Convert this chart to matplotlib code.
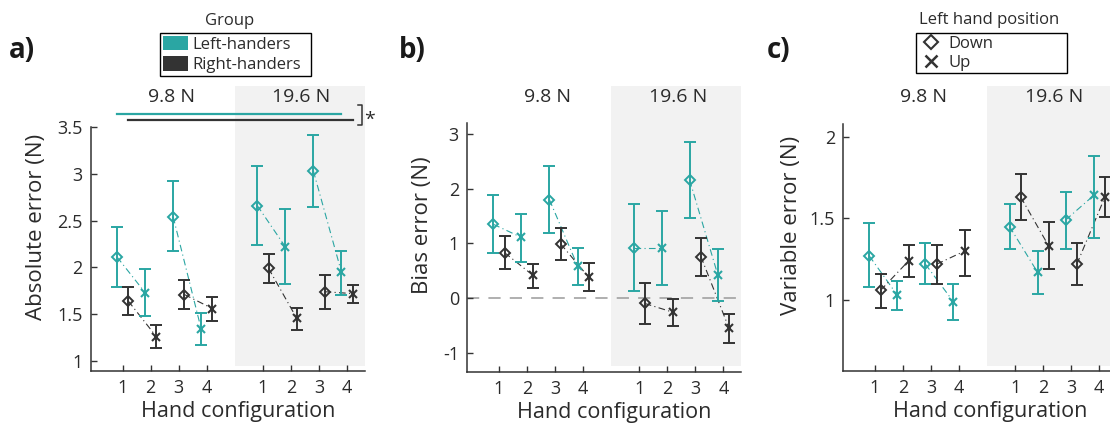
import matplotlib
matplotlib.use('Agg')
import matplotlib.pyplot as plt
import matplotlib.transforms as mtransforms
from matplotlib.patches import Rectangle, Patch
from matplotlib.lines import Line2D
import numpy as np

plt.rcParams['font.family'] = ['Open Sans', 'DejaVu Sans']

# hand configuration 1-4 at 9.8 N, then 1-4 at 19.6 N
config_labels = ['1', '2', '3', '4', '1', '2', '3', '4']
force_labels = ['9.8 N', '19.6 N']
xpos = [1, 2, 3, 4, 6, 7, 8, 9]
hand_pos = ['Down', 'Up', 'Down', 'Up', 'Down', 'Up', 'Down', 'Up']

# absolute error (N)
abs_left_mean = [2.11, 1.73, 2.54, 1.34, 2.66, 2.22, 3.03, 1.95]
abs_left_lo = [1.79, 1.48, 2.17, 1.17, 2.24, 1.82, 2.64, 1.71]
abs_left_hi = [2.43, 1.98, 2.92, 1.51, 3.08, 2.62, 3.41, 2.18]
abs_right_mean = [1.64, 1.26, 1.71, 1.56, 1.99, 1.46, 1.74, 1.72]
abs_right_lo = [1.49, 1.14, 1.56, 1.43, 1.83, 1.33, 1.55, 1.62]
abs_right_hi = [1.79, 1.38, 1.87, 1.68, 2.14, 1.57, 1.92, 1.81]

# bias error (N)
bias_left_mean = [1.35, 1.11, 1.80, 0.59, 0.92, 0.92, 2.16, 0.43]
bias_left_lo = [0.83, 0.66, 1.19, 0.23, 0.13, 0.23, 1.47, -0.05]
bias_left_hi = [1.88, 1.53, 2.41, 0.91, 1.72, 1.60, 2.86, 0.90]
bias_right_mean = [0.83, 0.42, 0.99, 0.38, -0.10, -0.26, 0.76, -0.55]
bias_right_lo = [0.53, 0.19, 0.69, 0.12, -0.47, -0.51, 0.41, -0.82]
bias_right_hi = [1.14, 0.62, 1.29, 0.64, 0.27, -0.02, 1.09, -0.30]

# variable error (N)
var_left_mean = [1.27, 1.03, 1.22, 0.99, 1.45, 1.17, 1.49, 1.64]
var_left_lo = [1.08, 0.94, 1.10, 0.88, 1.31, 1.04, 1.31, 1.38]
var_left_hi = [1.47, 1.12, 1.35, 1.10, 1.59, 1.30, 1.66, 1.88]
var_right_mean = [1.06, 1.24, 1.22, 1.30, 1.63, 1.33, 1.22, 1.63]
var_right_lo = [0.95, 1.14, 1.10, 1.15, 1.49, 1.19, 1.09, 1.51]
var_right_hi = [1.16, 1.34, 1.34, 1.43, 1.77, 1.48, 1.35, 1.75]

TEAL = '#2aa6a3'
DARK = '#333333'
TXT = '#2b2b2b'
SHADE = '#f2f2f2'

fig = plt.figure(figsize=(11.1, 4.25), dpi=100)

def draw_group(ax, mean, lo, hi, color, dx):
    x = np.array(xpos) + dx
    mean = np.array(mean)
    yerr = [mean - np.array(lo), np.array(hi) - mean]
    ax.errorbar(x, mean, yerr=yerr, fmt='none', ecolor=color, elinewidth=1.4,
                capsize=4, capthick=1.4, zorder=3)
    # dash-dot line from Down to Up
    for i in range(0, 8, 2):
        ax.plot(x[i:i + 2], mean[i:i + 2], color=color, lw=0.8,
                ls=(0, (6, 3, 1, 3)), zorder=2)
    for i in range(8):
        if hand_pos[i] == 'Down':
            ax.plot(x[i], mean[i], marker='D', ms=5.5, mfc='none', mec=color,
                    mew=1.4, zorder=4)
        else:
            ax.plot(x[i], mean[i], marker='x', ms=6, mec=color, mew=1.5, zorder=4)

def setup(ax, ylim, yticks, ylabel, ylab_x):
    ax.set_xlim(-0.13, 9.64)
    ax.set_ylim(*ylim)
    ax.set_yticks(yticks)
    ax.set_yticklabels([('%g' % t) for t in yticks])
    ax.set_xticks(xpos)
    ax.set_xticklabels(config_labels)
    for s in ['top', 'right']:
        ax.spines[s].set_visible(False)
    for s in ['left', 'bottom']:
        ax.spines[s].set_color(DARK)
        ax.spines[s].set_linewidth(1.1)
    ax.tick_params(direction='in', length=4, width=1, colors=DARK,
                   labelsize=13, labelcolor=TXT, pad=6)
    ax.set_ylabel(ylabel, fontsize=16, color=TXT)
    ax.yaxis.set_label_coords(ylab_x, 0.59)
    ax.set_xlabel('Hand configuration', fontsize=15.5, color=TXT)
    ax.xaxis.set_label_coords(0.537, -0.121)
    ax.set_facecolor('none')
    tr = mtransforms.blended_transform_factory(ax.transData, fig.transFigure)
    ax.add_patch(Rectangle((5, 0.1388), 4.64, 0.66, transform=tr, facecolor=SHADE,
                           edgecolor='none', clip_on=False, zorder=0))
    ax.text(2.73, 0.772, force_labels[0], transform=tr, ha='center', va='center',
            fontsize=14, color=TXT)
    ax.text(7.38, 0.772, force_labels[1], transform=tr, ha='center', va='center',
            fontsize=14, color=TXT)

ax_a = fig.add_axes([0.0820, 0.1271, 0.2468, 0.5741])
ax_b = fig.add_axes([0.4210, 0.1254, 0.2468, 0.5845])
ax_c = fig.add_axes([0.7597, 0.1271, 0.2468, 0.5812])

setup(ax_a, (0.893, 3.5), [1, 1.5, 2, 2.5, 3, 3.5], 'Absolute error (N)', -0.16)
setup(ax_b, (-1.35, 3.2), [-1, 0, 1, 2, 3], 'Bias error (N)', -0.126)
setup(ax_c, (0.567, 2.077), [1, 1.5, 2], 'Variable error (N)', -0.151)

ax_b.axhline(0, color='#9a9a9a', lw=1.1, ls=(0, (8, 6)), zorder=1)

draw_group(ax_a, abs_left_mean, abs_left_lo, abs_left_hi, TEAL, -0.2)
draw_group(ax_a, abs_right_mean, abs_right_lo, abs_right_hi, DARK, 0.2)
draw_group(ax_b, bias_left_mean, bias_left_lo, bias_left_hi, TEAL, -0.2)
draw_group(ax_b, bias_right_mean, bias_right_lo, bias_right_hi, DARK, 0.2)
draw_group(ax_c, var_left_mean, var_left_lo, var_left_hi, TEAL, -0.2)
draw_group(ax_c, var_right_mean, var_right_lo, var_right_hi, DARK, 0.2)

# group effect annotation above panel a
ax_a.plot([0.8, 8.8], [3.634, 3.634], color=TEAL, lw=1.6, clip_on=False)
ax_a.plot([1.2, 9.2], [3.58, 3.58], color=DARK, lw=1.6, clip_on=False)
ax_a.plot([9.39, 9.54, 9.54, 9.39], [3.73, 3.73, 3.516, 3.516], color=DARK,
          lw=1.1, clip_on=False)
ax_a.text(9.8, 3.58, '*', fontsize=14, ha='center', va='center', color=TXT,
          clip_on=False)

# panel letters
for lab, xp in [('a)', 0.008), ('b)', 0.359), ('c)', 0.691)]:
    fig.text(xp, 0.882, lab, fontsize=20, fontweight='bold', color='#1a1a1a',
             ha='left', va='center')

# legends
fig.text(230 / 1110, 1 - 21 / 425, 'Group', ha='center', va='center',
         fontsize=12, color=TXT)
leg1 = fig.legend(handles=[Patch(facecolor=TEAL, edgecolor='none', label='Left-handers'),
                           Patch(facecolor=DARK, edgecolor='none', label='Right-handers')],
                  loc='upper left', bbox_to_anchor=(160 / 1110, 1 - 78 / 425, 151 / 1110, 45 / 425),
                  mode='expand', borderaxespad=0, fontsize=12, handlelength=1.5,
                  handleheight=1.0, handletextpad=0.3, borderpad=0.15, labelspacing=0.2,
                  fancybox=False, edgecolor='black', framealpha=1)
leg1.get_frame().set_linewidth(1.0)
for t in leg1.get_texts():
    t.set_color(TXT)

fig.text(989 / 1110, 1 - 20 / 425, 'Left hand position', ha='center', va='center',
         fontsize=12, color=TXT)
leg2 = fig.legend(handles=[Line2D([], [], ls='none', marker='D', ms=7, mfc='none', mec=DARK,
                                  mew=1.5, label='Down'),
                           Line2D([], [], ls='none', marker='x', ms=9, mec=DARK, mew=1.8,
                                  label='Up')],
                  loc='upper left', bbox_to_anchor=(916 / 1110, 1 - 78 / 425, 151 / 1110, 45 / 425),
                  mode='expand', borderaxespad=0, fontsize=12, handlelength=1.5,
                  handletextpad=0.3, borderpad=0.15, labelspacing=0.2,
                  fancybox=False, edgecolor='black', framealpha=1)
leg2.get_frame().set_linewidth(1.0)
for t in leg2.get_texts():
    t.set_color(TXT)

fig.savefig('out.png', dpi=100)
